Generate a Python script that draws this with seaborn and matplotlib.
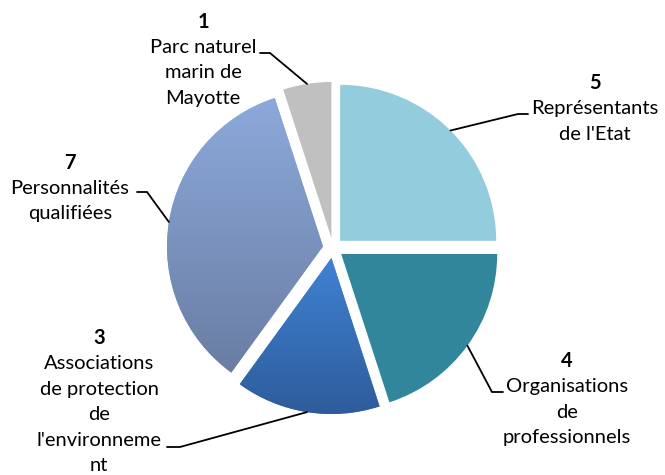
import matplotlib
matplotlib.use("Agg", force=True)
import matplotlib.pyplot as plt
import matplotlib.patches as mpatches
import numpy as np
import seaborn as sns
from matplotlib.colors import LinearSegmentedColormap

# data
categories = [
    "Représentants de l'Etat",
    "Organisations de professionnels",
    "Associations de protection de l'environnement",
    "Personnalités qualifiées",
    "Parc naturel marin de Mayotte",
]
values = [5, 4, 3, 7, 1]
label_lines = [
    ["Représentants", "de l'Etat"],
    ["Organisations", "de", "professionnels"],
    ["Associations", "de protection", "de", "l'environneme", "nt"],
    ["Personnalités", "qualifiées"],
    ["Parc naturel", "marin de", "Mayotte"],
]
# (top colour, bottom colour) per slice
slice_colors = [
    ("#93CDDD", "#93CDDD"),
    ("#31869B", "#31869B"),
    ("#3F82D3", "#2E5C9A"),
    ("#8CA9DA", "#6A7DA3"),
    ("#C0C0C0", "#C0C0C0"),
]

# layout (pixels in the 665x475 picture)
W, H = 665, 475
CX, CY, R = 333, 248, 156
label_pos = [(595, 83), (567, 361), (99, 338), (70, 163), (203, 22)]
leader_attach = [(528, 114), (503, 392), (167, 447), (137, 192), (260, 53)]
leader_elbow = [(518, 114), (492, 392), (180, 447), (147, 192), (270, 53)]
LINE_STEP = 25.5
FS = 14.5


def px(x, y):
    return (x - CX) / R, (CY - y) / R


sns.set_style("white")
plt.rcParams["font.family"] = ["Lato", "DejaVu Sans"]

fig = plt.figure(figsize=(W / 100, H / 100), dpi=100)
ax = fig.add_axes([0, 0, 1, 1])
ax.axis("off")

wedges, _ = ax.pie(
    values,
    startangle=90,
    counterclock=False,
    explode=[0.065] * len(values),
    colors=[c[0] for c in slice_colors],
    wedgeprops=dict(linewidth=0),
    radius=1,
)

for w, (top, bottom) in zip(wedges, slice_colors):
    sh = mpatches.Shadow(w, 1.5, -2.0, facecolor="#808080", alpha=0.25, linewidth=0)
    sh.set_zorder(w.get_zorder() - 0.5)
    ax.add_patch(sh)
    if top != bottom:
        ext = w.get_path().get_extents()
        cmap = LinearSegmentedColormap.from_list("g", [bottom, top])
        grad = np.linspace(0, 1, 256).reshape(-1, 1)
        im = ax.imshow(grad, cmap=cmap, origin="lower", aspect="auto",
                       extent=[ext.x0, ext.x1, ext.y0, ext.y1], zorder=w.get_zorder() + 0.1)
        im.set_clip_path(w)

ax.set_xlim(-CX / R, (W - CX) / R)
ax.set_ylim(-(H - CY) / R, CY / R)

for w, val, lines, (lx, ly), att, elb in zip(wedges, values, label_lines, label_pos,
                                               leader_attach, leader_elbow):
    ax.text(*px(lx, ly), str(val), ha="center", va="center",
            fontsize=FS, fontweight="bold", color="black")
    for i, line in enumerate(lines):
        ax.text(*px(lx, ly + (i + 1) * LINE_STEP), line, ha="center", va="center",
                fontsize=FS, color="black")
    mid = np.deg2rad((w.theta1 + w.theta2) / 2)
    cx, cy = w.center
    end = (cx + w.r * np.cos(mid), cy + w.r * np.sin(mid))
    p_att, p_elb = px(*att), px(*elb)
    ax.plot([p_att[0], p_elb[0], end[0]], [p_att[1], p_elb[1], end[1]],
            color="black", linewidth=1.3, solid_joinstyle="miter", zorder=5)

fig.savefig("out.png", dpi=100)
